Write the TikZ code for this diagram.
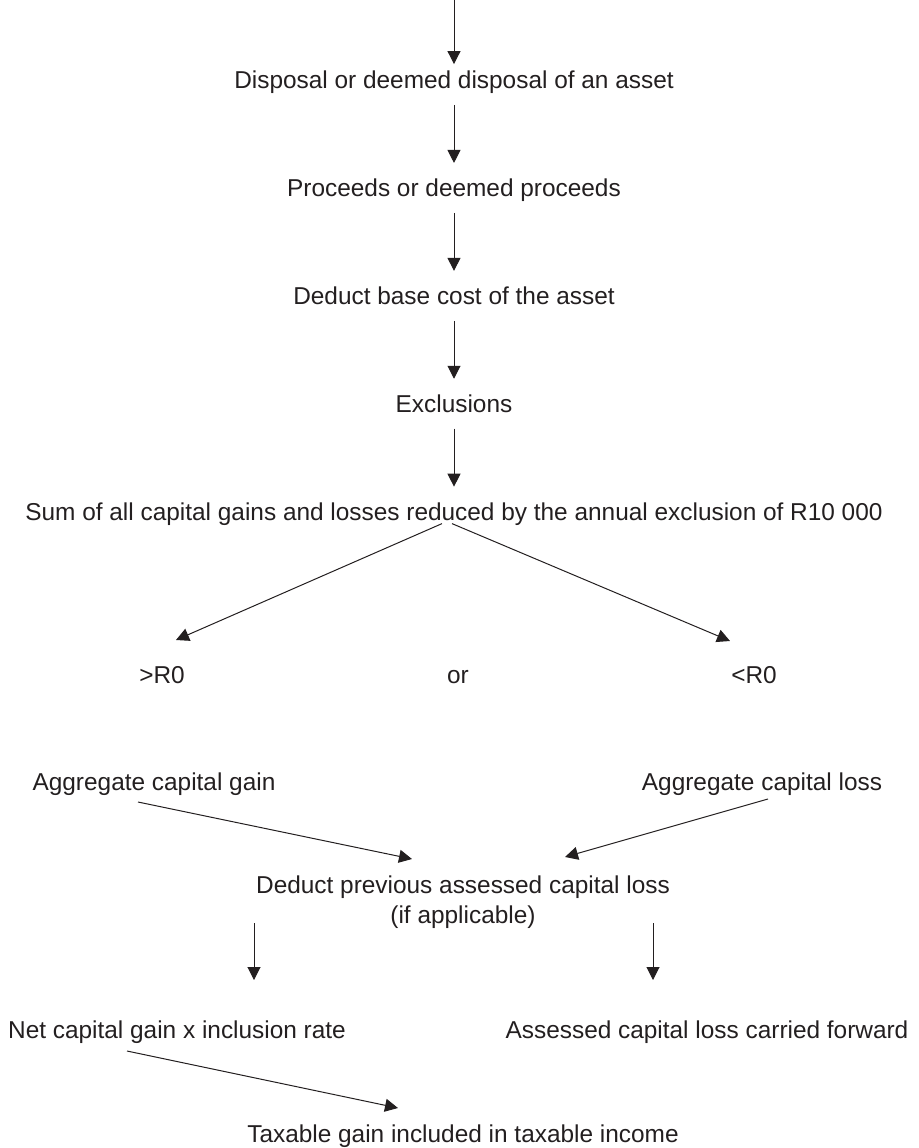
\documentclass[tikz,border=0pt]{standalone}
\usepackage{fontspec}
\setmainfont{Liberation Sans}
\usepackage{xcolor}
\usepackage{tikz}
\usetikzlibrary{positioning}
\usetikzlibrary{arrows.meta}
\definecolor{ink}{HTML}{231F20}
\tikzset{edge/.style = {-{Triangle[length=6.5pt,width=6.5pt]}, line width=0.5pt, color=ink}}

\begin{document}
\begin{tikzpicture}[x=0.5pt,y=-0.5pt,node distance=29pt,main node/.style={font=\fontsize{12.2}{15}\selectfont,text=ink,inner sep=0pt,text height=8.75pt,text depth=0pt,align=center},step node/.style={main node,outer sep=8.1pt}]
                    \useasboundingbox (0,0) rectangle (918,1148);
                    \coordinate (0) at (454,0);
                    \node[step node] (1) at (454,80) {Disposal or deemed disposal of an asset};
                    \node[step node] (2) [below=of 1] {Proceeds or deemed proceeds};
                    \node[step node] (3) [below=of 2] {Deduct base cost of the asset};
                    \node[step node] (4) [below=of 3] {Exclusions};
                    \node[step node] (5) [below=of 4] {Sum of all capital gains and losses reduced by the annual exclusion of R10 000};
                    \node[main node] (6) at (162,675) {>R0};
                    \node[main node] (7) at (458,675) {or};
                    \node[main node] (8) at (754,675) {<R0};
                    \node[main node] (9) at (154,782) {Aggregate capital gain};
                    \node[main node] (10) at (762,782) {Aggregate capital loss};
                    \node[main node] (11) at (463,915) {Deduct previous assessed capital loss\\(if applicable)};
                    \node[main node] (12) at (177,1030) {Net capital gain x inclusion rate};
                    \node[main node] (13) at (707,1030) {Assessed capital loss carried forward};
                    \node[main node] (14) at (463,1134) {Taxable gain included in taxable income};

                    \path[edge] (0) edge[shorten >=-4.5pt] (1);
                    \path[edge] (1) edge (2);
                    \path[edge] (2) edge (3);
                    \path[edge] (3) edge (4);
                    \path[edge] (4) edge (5);
                    \path[edge] ([shift={(-12,12)}]5.center) edge ([shift={(14,-35)}]6.center);
                    \path[edge] ([shift={(-2,12)}]5.center) edge ([shift={(-24,-34)}]8.center);
                    \path[edge] ([shift={(-16,20)}]9.center) edge ([shift={(-51,-56)}]11.center);
                    \path[edge] ([shift={(6,17)}]10.center) edge ([shift={(102,-58)}]11.center);
                    \path[edge] ([shift={(-209,8)}]11.center) edge ([shift={(77,-50)}]12.center);
                    \path[edge] ([shift={(190,8)}]11.center) edge ([shift={(-54,-50)}]13.center);
                    \path[edge] ([shift={(-50,21)}]12.center) edge ([shift={(-65,-26)}]14.center);
                \end{tikzpicture}
\end{document}
